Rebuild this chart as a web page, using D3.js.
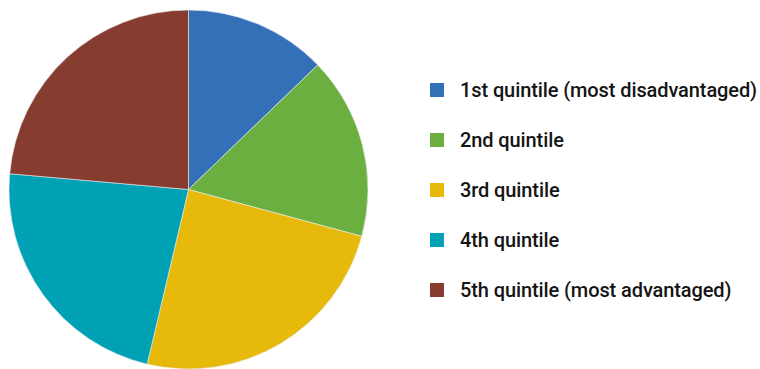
<!DOCTYPE html>
<html>
<head>
<meta charset="utf-8">
<script src="https://cdn.jsdelivr.net/npm/d3@7"></script>
<style>
  html, body { margin: 0; padding: 0; background: #fff; }
  svg { display: block; }
  .legend text { font-family: Roboto, "Noto Sans", sans-serif; font-size: 20px; font-weight: 500; letter-spacing: -0.1px; fill: #141414; }
</style>
</head>
<body>
<svg id="chart" width="760" height="369"></svg>
<script>
// Share of each socio-economic quintile (percent)
const categories = [
  "1st quintile (most disadvantaged)",
  "2nd quintile",
  "3rd quintile",
  "4th quintile",
  "5th quintile (most advantaged)"
];
const shares = [12.8, 16.4, 24.5, 22.7, 23.6];
const colors = ["#3470b8", "#6aaf3f", "#e6b90b", "#00a0b5", "#873c30"];

const svg = d3.select("#chart");
const cx = 188.5, cy = 189.5, radius = 179.5;

const data = categories.map((c, i) => ({ label: c, value: shares[i], color: colors[i] }));

const pie = d3.pie().value(d => d.value).sort(null);
const arc = d3.arc().innerRadius(0).outerRadius(radius);

svg.append("g")
  .attr("transform", `translate(${cx},${cy})`)
  .selectAll("path")
  .data(pie(data))
  .join("path")
  .attr("d", arc)
  .attr("fill", d => d.data.color)
  .attr("stroke", "#e8eef4")
  .attr("stroke-width", 0.6);

// Legend
const y = d3.scalePoint().domain(categories).range([90, 290]);
const legend = svg.append("g").attr("class", "legend");
const rows = legend.selectAll("g").data(data).join("g")
  .attr("transform", d => `translate(430,${y(d.label)})`);
rows.append("rect")
  .attr("x", 0).attr("y", -7).attr("width", 14).attr("height", 14)
  .attr("fill", d => d.color);
rows.append("text")
  .attr("x", 30).attr("y", 0).attr("dy", "0.36em")
  .text(d => d.label);
</script>
</body>
</html>
